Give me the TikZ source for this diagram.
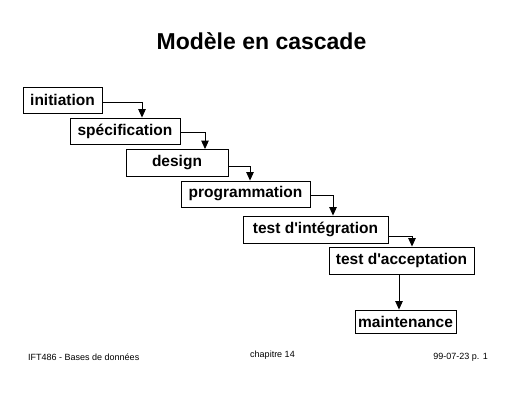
\documentclass[tikz,border=0pt]{standalone}
\usepackage{fontspec}
\setmainfont{Liberation Sans}
\usetikzlibrary{arrows.meta}
\begin{document}
\begin{tikzpicture}[x=1pt,y=-1pt,
  stage/.style={draw,line width=0.9pt,inner sep=0pt,font=\fontsize{15.5}{17}\selectfont\bfseries},
  flow/.style={line width=0.9pt,-{Triangle[length=8.5pt,width=7.5pt]}},
  foot/.style={font=\fontsize{9}{10}\selectfont,inner sep=0pt}]
\useasboundingbox (0,0) rectangle (518,400);
\node[font=\fontsize{23}{26}\selectfont\bfseries] (title) at (261.5,41) {Modèle en cascade};
\node[stage,minimum width=79pt,minimum height=26pt] (init) at (62.5,100) {initiation};
\node[stage,minimum width=110pt,minimum height=26pt] (spec) at (125,131) {spécification};
\node[stage,minimum width=102pt,minimum height=27pt] (design) at (177,163) {design};
\node[stage,minimum width=129pt,minimum height=26pt] (prog) at (245.5,194) {programmation};
\node[stage,minimum width=145pt,minimum height=27pt] (integ) at (315.5,229.5) {test d\textquotesingle intégration};
\node[stage,minimum width=145pt,minimum height=27pt] (accept) at (401.5,260.5) {test d\textquotesingle acceptation};
\node[stage,minimum width=101pt,minimum height=23pt] (maint) at (405.5,321.5) {maintenance};
\draw[flow] ([yshift=-2pt]init.east) -| ([xshift=17pt]spec.north);
\draw[flow] ([yshift=-1pt]spec.east) -| ([xshift=28pt]design.north);
\draw[flow] ([yshift=-3pt]design.east) -| ([xshift=4.5pt]prog.north);
\draw[flow] ([yshift=-1pt]prog.east) -| ([xshift=17.5pt]integ.north);
\draw[flow] ([yshift=-6.5pt]integ.east) -| ([xshift=10.5pt]accept.north);
\draw[flow] ([xshift=-2.5pt]accept.south) -- ([xshift=-6.5pt]maint.north);
\node[foot,anchor=base west] (f1) at (28,360) {IFT486 - Bases de données};
\node[foot,anchor=base] (f2) at (272.5,357.5) {chapitre 14};
\node[foot,anchor=base east] (f3) at (488,359) {99-07-23 p. 1};
\end{tikzpicture}
\end{document}
